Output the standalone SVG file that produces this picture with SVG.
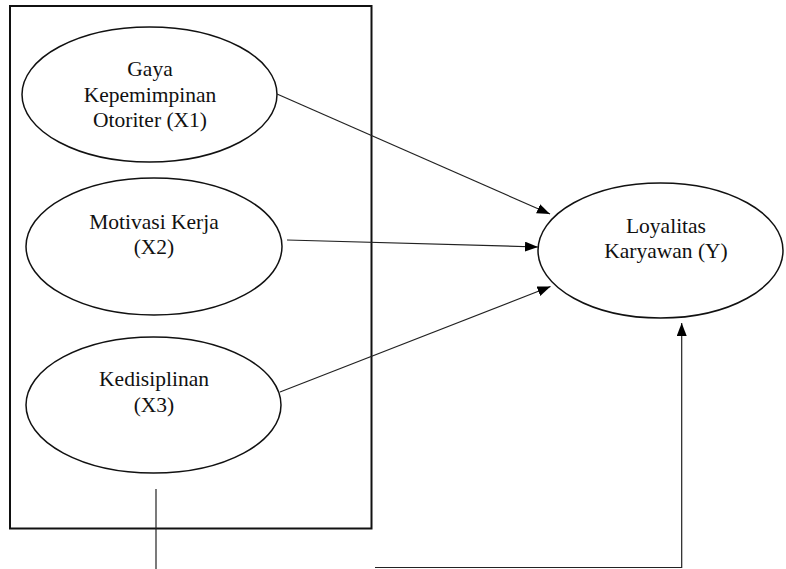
<svg xmlns="http://www.w3.org/2000/svg" width="786" height="569" viewBox="0 0 786 569">
<style>
.box{fill:none;stroke:#111;stroke-width:2}
.node ellipse{fill:#fff;stroke:#111;stroke-width:1.5}
.node text{font-family:"Liberation Serif","Times New Roman",serif;font-size:21.5px;fill:#111;text-anchor:middle}
.conn line,.conn polyline{fill:none;stroke:#222;stroke-width:1.2}
</style>
<defs>
<marker id="arr" markerUnits="userSpaceOnUse" markerWidth="14" markerHeight="11" refX="13" refY="5" orient="auto">
<path d="M0,0 L13,5 L0,10 z" fill="#000"/>
</marker>
</defs>
<rect class="box" x="10" y="6" width="361.5" height="522.5"/>
<g id="x1" class="node">
<ellipse cx="149.5" cy="94.5" rx="127.5" ry="67.5"/>
<text x="150" y="76">Gaya</text>
<text x="150" y="101.5">Kepemimpinan</text>
<text x="150" y="126.5">Otoriter (X1)</text>
</g>
<g id="x2" class="node">
<ellipse cx="154" cy="246.5" rx="128" ry="68.5"/>
<text x="154" y="229">Motivasi Kerja</text>
<text x="154" y="254">(X2)</text>
</g>
<g id="x3" class="node">
<ellipse cx="153.5" cy="405" rx="127.5" ry="68"/>
<text x="154" y="386">Kedisiplinan</text>
<text x="154" y="411.5">(X3)</text>
</g>
<g id="y" class="node">
<ellipse cx="660.5" cy="250.5" rx="122.5" ry="67.5"/>
<text x="666" y="233">Loyalitas</text>
<text x="666" y="258">Karyawan (Y)</text>
</g>
<g id="connectors" class="conn">
<line x1="277" y1="94" x2="550" y2="214" marker-end="url(#arr)"/>
<line x1="287" y1="240" x2="538" y2="247" marker-end="url(#arr)"/>
<line x1="280" y1="392" x2="550.5" y2="286.5" marker-end="url(#arr)"/>
<line x1="156" y1="489" x2="156" y2="569"/>
<polyline points="375,567.5 681.7,567.5 681.7,323" marker-end="url(#arr)"/>
</g>
</svg>
